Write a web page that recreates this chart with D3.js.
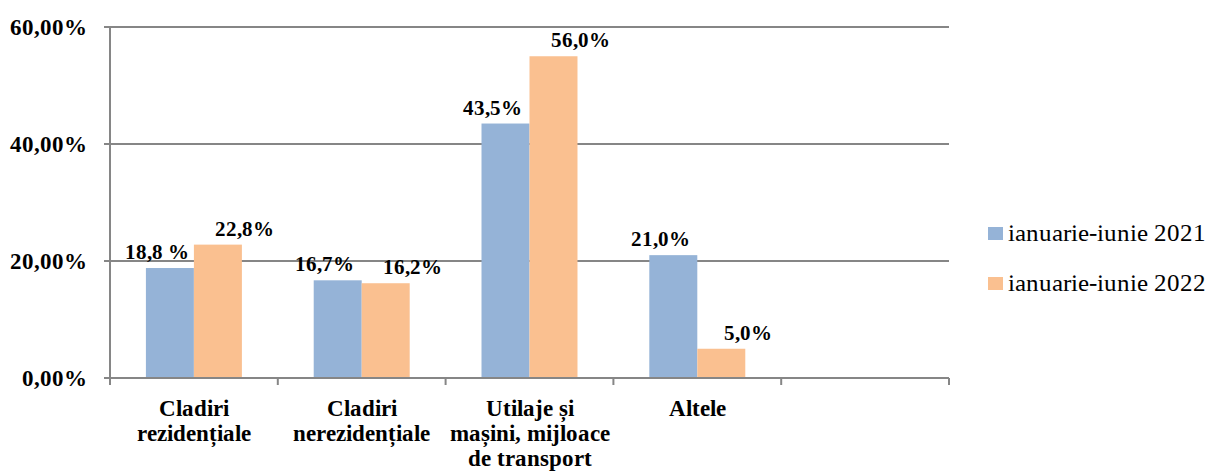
<!DOCTYPE html>
<html><head><meta charset="utf-8">
<script src="https://cdn.jsdelivr.net/npm/d3@7"></script>
<style>
@font-face{font-family:"ChartSerif";src:local("Liberation Serif"),local("LiberationSerif"),local("Tinos");font-weight:400;}
@font-face{font-family:"ChartSerif";src:local("Liberation Serif Bold"),local("LiberationSerif-Bold"),local("Tinos Bold");font-weight:700;}
body{margin:0;background:#fff}
svg{font-family:ChartSerif,"Liberation Serif",Tinos,serif;}
</style>
</head><body>
<script>
const categories = [["Cladiri","rezidențiale"],["Cladiri","nerezidențiale"],["Utilaje și","mașini, mijloace","de transport"],["Altele"],[""]];
const seriesNames = ["ianuarie-iunie 2021","ianuarie-iunie 2022"];
const values2021 = [18.8, 16.7, 43.5, 21.0];
const values2022 = [22.8, 16.2, 55.0, 5.0];
const labels2021 = ["18,8 %","16,7%","43,5%","21,0%"];
const labels2022 = ["22,8%","16,2%","56,0%","5,0%"];
const yTicks = [0,20,40,60];
const yTickLabels = ["0,00%","20,00%","40,00%","60,00%"];
const colors = ["#95B3D7","#FAC090"];

const FONT="ChartSerif, Liberation Serif, Tinos, serif";
const svg=d3.select("body").append("svg").attr("width",1218).attr("height",472).attr("font-family",FONT);
const pLeft=110,pRight=949,pTop=27,pBottom=378;
const x=d3.scaleBand().domain(d3.range(categories.length)).range([pLeft,pRight]).paddingInner(0).paddingOuter(0);
const y=d3.scaleLinear().domain([0,60]).range([pBottom,pTop]);
const bw=x.bandwidth();
const barW=bw*0.286;
const grid="#868686";

svg.append("g").selectAll("line").data(yTicks.slice(1)).join("line")
 .attr("x1",pLeft).attr("x2",pRight).attr("y1",d=>y(d)).attr("y2",d=>y(d))
 .attr("stroke",grid).attr("stroke-width",2);

const series=[values2021,values2022];
const labs=[labels2021,labels2022];
series.forEach((vals,s)=>{
  svg.append("g").selectAll("rect").data(vals).join("rect")
   .attr("x",(d,i)=>x(i)+bw/2-barW+s*barW)
   .attr("y",d=>y(d)).attr("width",barW).attr("height",d=>y(0)-y(d))
   .attr("fill",colors[s]);
});
svg.append("line").attr("x1",pLeft).attr("x2",pLeft).attr("y1",pTop).attr("y2",pBottom+7).attr("stroke",grid).attr("stroke-width",2);
svg.append("line").attr("x1",pLeft-6).attr("x2",pRight).attr("y1",pBottom).attr("y2",pBottom).attr("stroke",grid).attr("stroke-width",2);
svg.append("g").selectAll("line").data(yTicks).join("line")
 .attr("x1",pLeft-6).attr("x2",pLeft).attr("y1",d=>y(d)).attr("y2",d=>y(d)).attr("stroke",grid).attr("stroke-width",2);
svg.append("g").selectAll("line").data(d3.range(categories.length+1)).join("line")
 .attr("x1",i=>pLeft+i*bw).attr("x2",i=>pLeft+i*bw).attr("y1",pBottom).attr("y2",pBottom+7).attr("stroke",grid).attr("stroke-width",2);

svg.append("g").selectAll("text").data(yTicks).join("text")
 .attr("x",pLeft-23).attr("y",d=>y(d)).attr("dy","0.34em").attr("text-anchor","end")
 .attr("font-weight","bold").attr("font-size",23)
 .text((d,i)=>yTickLabels[i]);

const dxs=[-13,27], dys=[-9,-9];
series.forEach((vals,s)=>{
  svg.append("g").selectAll("text").data(vals).join("text")
   .attr("x",(d,i)=>x(i)+bw/2-barW/2+s*barW+dxs[s])
   .attr("y",d=>y(d)+dys[s]).attr("text-anchor","middle")
   .attr("font-weight","bold").attr("font-size",21)
   .text((d,i)=>labs[s][i]);
});

const cg=svg.append("g");
categories.forEach((lines,i)=>{
  const t=cg.append("text").attr("text-anchor","middle")
   .attr("font-weight","bold").attr("font-size",23);
  lines.forEach((l,j)=>t.append("tspan").attr("x",x(i)+bw/2).attr("y",416+j*25).text(l));
});

const lg=svg.append("g");
seriesNames.forEach((n,i)=>{
  const base=241+i*50;
  lg.append("rect").attr("x",988).attr("y",base-14).attr("width",15).attr("height",13).attr("fill",colors[i]);
  lg.append("text").attr("x",1008).attr("y",base)
   .attr("font-size",25).text(n);
});
</script>
</body></html>
